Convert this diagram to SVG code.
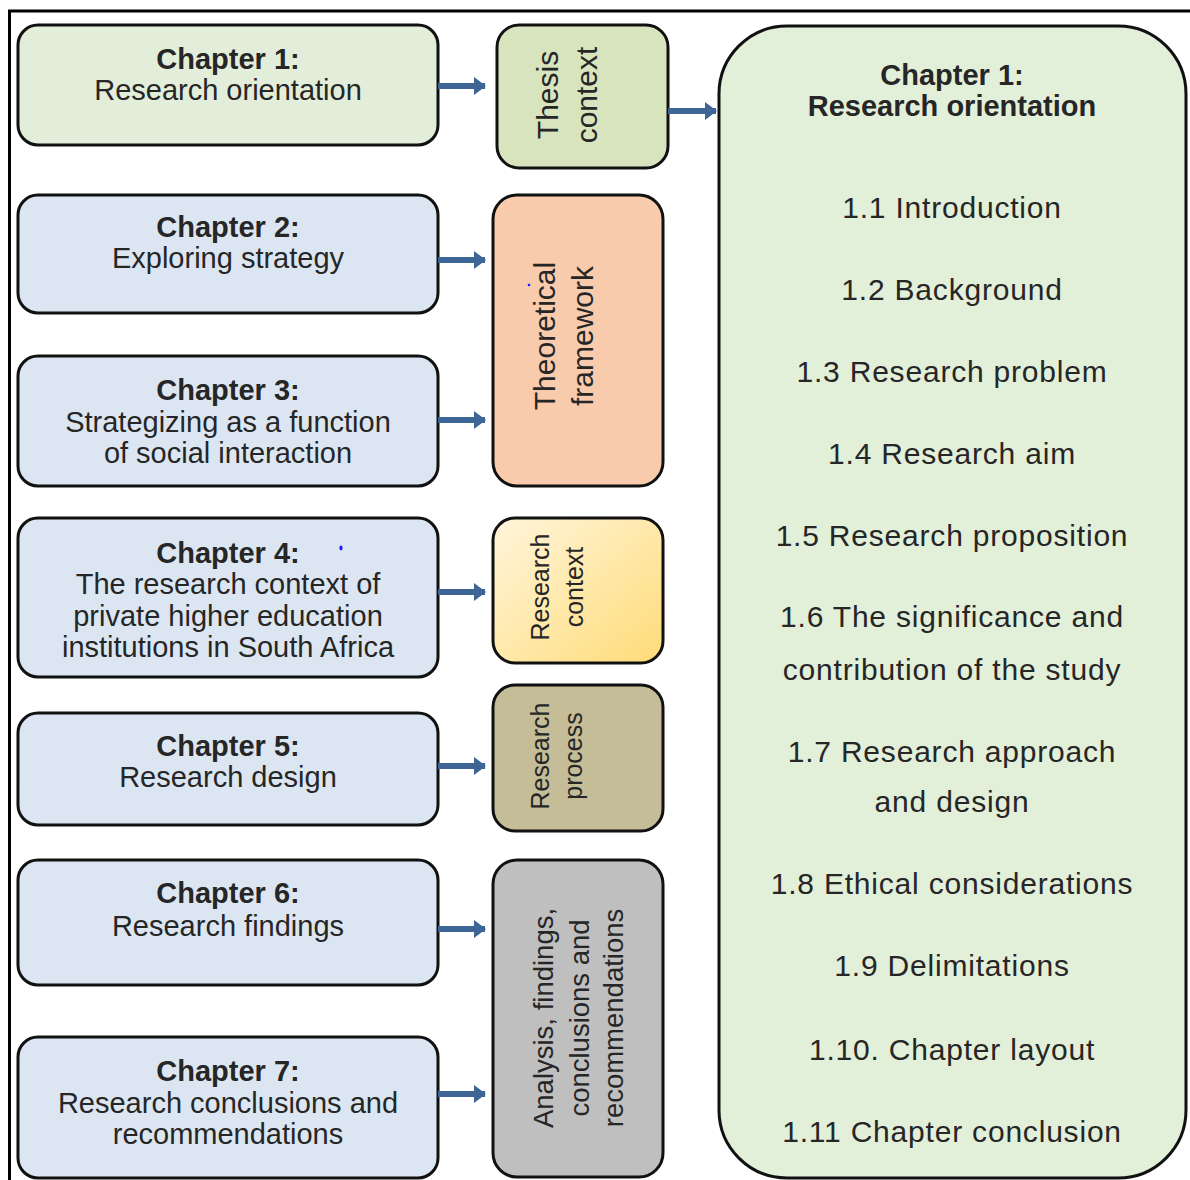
<svg xmlns="http://www.w3.org/2000/svg" width="1190" height="1180" viewBox="0 0 1190 1180">
  <defs>
    <linearGradient id="gradContext" x1="0" y1="0" x2="1" y2="1">
      <stop offset="0" stop-color="#fff5dc"/>
      <stop offset="1" stop-color="#ffdc78"/>
    </linearGradient>
    <marker id="arrowHead" markerUnits="userSpaceOnUse" markerWidth="12" markerHeight="18" refX="11" refY="9" orient="auto">
      <path d="M0,0 L12,9 L0,18 Z" fill="#3d6596"/>
    </marker>
    <style>
      .box { stroke: #111; stroke-width: 3; }
      .ch { fill: #dce6f2; }
      .ch1 { fill: #e2eed9; }
      .t { font-family: "Liberation Sans", Arial, sans-serif; font-size: 29px; fill: #262626; text-anchor: middle; }
      .b { font-weight: bold; }
      .r { font-size: 30px; letter-spacing: 0.8px; }
      .v { font-size: 30px; }
      .vs { font-size: 25px; }
      .va { font-size: 27.5px; }
      .conn { stroke: #3d6596; stroke-width: 6; fill: none; marker-end: url(#arrowHead); }
    </style>
  </defs>

  <rect width="1190" height="1180" fill="#ffffff"/>

  <!-- page frame: top and left rules -->
  <line x1="8" y1="11" x2="1190" y2="11" stroke="#000" stroke-width="3"/>
  <line x1="9.5" y1="10" x2="9.5" y2="1180" stroke="#000" stroke-width="3"/>

  <!-- chapter boxes -->
  <g id="chapter1">
    <rect class="box ch1" x="18" y="25" width="420" height="120" rx="20"/>
    <text class="t b" x="228" y="69">Chapter 1:</text>
    <text class="t" x="228" y="100">Research orientation</text>
  </g>
  <g id="chapter2">
    <rect class="box ch" x="18" y="195" width="420" height="118" rx="20"/>
    <text class="t b" x="228" y="237">Chapter 2:</text>
    <text class="t" x="228" y="268">Exploring strategy</text>
  </g>
  <g id="chapter3">
    <rect class="box ch" x="18" y="356" width="420" height="130" rx="20"/>
    <text class="t b" x="228" y="400">Chapter 3:</text>
    <text class="t" x="228" y="432">Strategizing as a function</text>
    <text class="t" x="228" y="463">of social interaction</text>
  </g>
  <g id="chapter4">
    <rect class="box ch" x="18" y="518" width="420" height="159" rx="20"/>
    <text class="t b" x="228" y="563">Chapter 4:</text>
    <text class="t" x="228" y="594">The research context of</text>
    <text class="t" x="228" y="626">private higher education</text>
    <text class="t" x="228" y="657">institutions in South Africa</text>
    <ellipse cx="341" cy="548" rx="1.6" ry="2.4" fill="#1a1aff"/>
  </g>
  <g id="chapter5">
    <rect class="box ch" x="18" y="713" width="420" height="112" rx="20"/>
    <text class="t b" x="228" y="756">Chapter 5:</text>
    <text class="t" x="228" y="787">Research design</text>
  </g>
  <g id="chapter6">
    <rect class="box ch" x="18" y="860" width="420" height="125" rx="20"/>
    <text class="t b" x="228" y="903">Chapter 6:</text>
    <text class="t" x="228" y="936">Research findings</text>
  </g>
  <g id="chapter7">
    <rect class="box ch" x="18" y="1037" width="420" height="141" rx="20"/>
    <text class="t b" x="228" y="1081">Chapter 7:</text>
    <text class="t" x="228" y="1113">Research conclusions and</text>
    <text class="t" x="228" y="1144">recommendations</text>
  </g>

  <!-- section boxes with vertical labels -->
  <g id="thesis-context">
    <rect class="box" x="497" y="25" width="171" height="143" rx="22" fill="#d7e4bd"/>
    <g transform="translate(566,95) rotate(-90)">
      <text class="t v" x="0" y="-8">Thesis</text>
      <text class="t v" x="0" y="31">context</text>
    </g>
  </g>
  <g id="theoretical-framework">
    <rect class="box" x="493" y="195" width="170" height="291" rx="24" fill="#f8cbad"/>
    <g transform="translate(562,336) rotate(-90)">
      <text class="t v" x="0" y="-7">Theoretical</text>
      <text class="t v" x="0" y="31">framework</text>
    </g>
    <circle cx="529" cy="285" r="1.3" fill="#1a1aff"/>
  </g>
  <g id="research-context">
    <rect class="box" x="493" y="518" width="170" height="145" rx="22" fill="url(#gradContext)"/>
    <g transform="translate(555,587) rotate(-90)">
      <text class="t vs" x="0" y="-6">Research</text>
      <text class="t vs" x="0" y="28">context</text>
    </g>
  </g>
  <g id="research-process">
    <rect class="box" x="493" y="685" width="170" height="146" rx="22" fill="#c4bd97"/>
    <g transform="translate(555,756) rotate(-90)">
      <text class="t vs" x="0" y="-6">Research</text>
      <text class="t vs" x="0" y="27">process</text>
    </g>
  </g>
  <g id="analysis">
    <rect class="box" x="493" y="860" width="170" height="317" rx="24" fill="#bfbfbf"/>
    <g transform="translate(578,1018) rotate(-90)">
      <text class="t va" x="0" y="-25">Analysis, findings,</text>
      <text class="t va" x="0" y="11">conclusions and</text>
      <text class="t va" x="0" y="45">recommendations</text>
    </g>
  </g>

  <!-- chapter 1 outline -->
  <g id="chapter1-outline">
    <rect class="box" x="719" y="26" width="467" height="1152" rx="68" fill="#e2efd9"/>
    <text class="t b" x="952" y="85">Chapter 1:</text>
    <text class="t b" x="952" y="116">Research orientation</text>
    <text class="t r" x="952" y="218">1.1 Introduction</text>
    <text class="t r" x="952" y="300">1.2 Background</text>
    <text class="t r" x="952" y="382">1.3 Research problem</text>
    <text class="t r" x="952" y="464">1.4 Research aim</text>
    <text class="t r" x="952" y="546">1.5 Research proposition</text>
    <text class="t r" x="952" y="627">1.6 The significance and</text>
    <text class="t r" x="952" y="680">contribution of the study</text>
    <text class="t r" x="952" y="762">1.7 Research approach</text>
    <text class="t r" x="952" y="812">and design</text>
    <text class="t r" x="952" y="894">1.8 Ethical considerations</text>
    <text class="t r" x="952" y="976">1.9 Delimitations</text>
    <text class="t r" x="952" y="1060">1.10. Chapter layout</text>
    <text class="t r" x="952" y="1142">1.11 Chapter conclusion</text>
  </g>

  <!-- connectors -->
  <g id="connectors">
    <line class="conn" x1="438" y1="86" x2="485" y2="86"/>
    <line class="conn" x1="668" y1="111" x2="716" y2="111"/>
    <line class="conn" x1="438" y1="260" x2="485" y2="260"/>
    <line class="conn" x1="438" y1="420" x2="485" y2="420"/>
    <line class="conn" x1="438" y1="592" x2="485" y2="592"/>
    <line class="conn" x1="438" y1="766" x2="485" y2="766"/>
    <line class="conn" x1="438" y1="929" x2="485" y2="929"/>
    <line class="conn" x1="438" y1="1094" x2="485" y2="1094"/>
  </g>
</svg>
